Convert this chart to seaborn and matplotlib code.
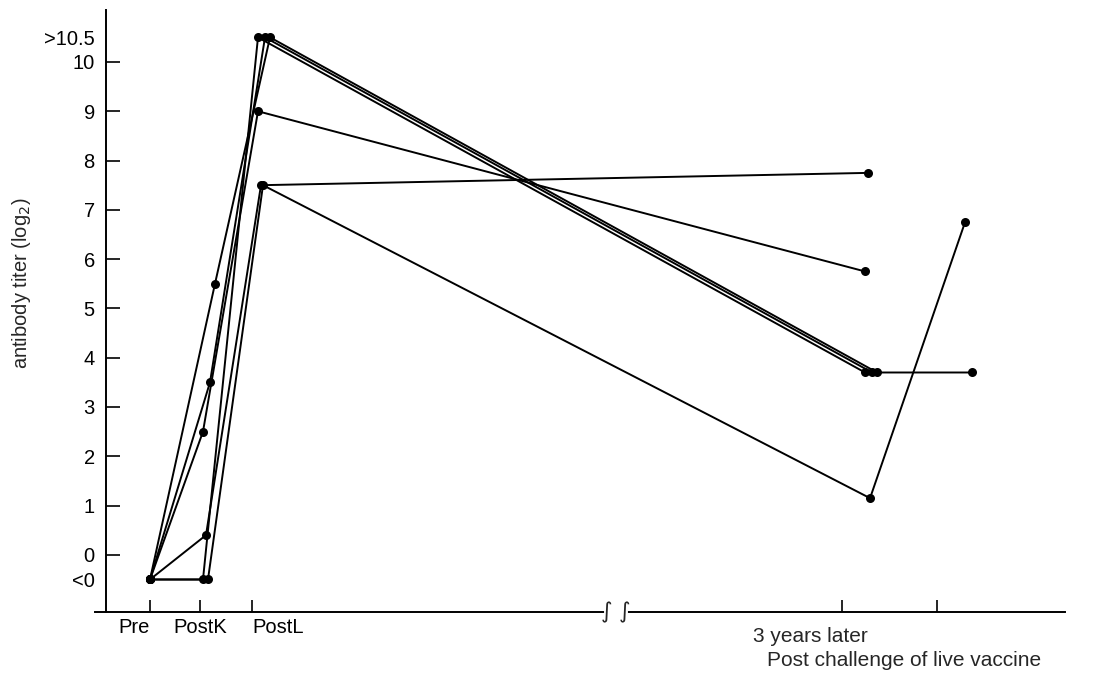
"""
Antibody titer (log2) per subject: Pre, PostK, PostL, 3 years later and after
a challenge with live vaccine. Saves out.png.
"""
import numpy as np
import pandas as pd
import matplotlib.pyplot as plt
import seaborn as sns

timepoints = ["Pre", "PostK", "PostL", "3 years later", "Post challenge"]
subjects = ["A", "B", "C", "D", "E", "F"]

# titer values, -0.5 = "<0", 10.5 = ">10.5"
pre = [-0.5, -0.5, -0.5, -0.5, -0.5, -0.5]
post_k = [5.5, 3.5, 2.5, 0.4, -0.5, -0.5]
post_l = [10.5, 10.5, 9.0, 7.5, 10.5, 7.5]
three_years = [3.7, 3.7, 5.75, 7.75, 3.7, 1.15]
challenge = [3.7, np.nan, np.nan, np.nan, np.nan, 6.75]

# x scale of the time axis (gap between PostL and 3 years is broken)
time_x = [0.0, 1.06, 2.16, 14.3, 16.2]
tick_x = [0.0, 1.0, 2.04, 13.84, 15.74]
# small shift per subject so overlapping lines stay visible
dodge = [0.24, 0.14, 0.0, 0.06, 0.0, 0.1]

series = [pre, post_k, post_l, three_years, challenge]
rows = []
for i, subj in enumerate(subjects):
    for j, t in enumerate(timepoints):
        v = series[j][i]
        if np.isnan(v):
            continue
        shift = dodge[i] if j > 0 else 0.0
        rows.append({"subject": subj, "time": t, "x": time_x[j] + shift, "titer": v})
df = pd.DataFrame(rows)

sns.set_style("ticks")
plt.rcParams["font.family"] = ["Liberation Sans", "DejaVu Sans"]

fig = plt.figure(figsize=(10.98, 6.82), dpi=100)
ax = fig.add_axes([0.0865, 0.1026, 0.8835, 0.8824])

sns.lineplot(data=df, x="x", y="titer", units="subject", estimator=None,
             color="black", linewidth=1.4, marker="o", markersize=6.5,
             markeredgewidth=0, sort=True, legend=False, ax=ax)

ax.set_xlim(-1.1, 18.3)
ax.set_ylim(-1.16, 11.05)
ax.set_xlabel("")
ax.set_ylabel("")

for side in ["top", "right"]:
    ax.spines[side].set_visible(False)
ax.spines["left"].set_position(("data", -0.88))
for side in ["left", "bottom"]:
    ax.spines[side].set_linewidth(1.4)
    ax.spines[side].set_color("black")

# y ticks: integers plus the "<0" / ">10.5" labels (no tick mark)
yt = [-0.5] + list(range(0, 11)) + [10.5]
ylabels = ["<0"] + [str(v) for v in range(0, 11)] + [">10.5"]
ax.set_yticks(yt)
ax.set_yticklabels(ylabels, fontsize=14.5)
ax.tick_params(axis="y", direction="in", length=10, width=1.2, pad=8, colors="black")
ticks = ax.yaxis.get_major_ticks()
ticks[0].tick1line.set_visible(False)
ticks[-1].tick1line.set_visible(False)

ax.set_xticks(tick_x)
ax.set_xticklabels(["Pre", "PostK", "PostL", "", ""], fontsize=14.5)
ax.tick_params(axis="x", direction="in", length=9, width=1.2, pad=4, colors="black")
for lbl, ha in zip(ax.get_xticklabels(), ["right", "center", "left", "center", "center"]):
    lbl.set_ha(ha)

# axis break
ybot = ax.get_ylim()[0]
ax.plot([9.12, 9.52], [ybot, ybot], color="white", lw=3, clip_on=False, zorder=5)
for bx in [9.14, 9.5]:
    ax.text(bx, ybot, "\u222b", ha="center", va="center", fontsize=16,
            family="DejaVu Sans", clip_on=False, zorder=6)

fig.text(810 / 1098, 1 - 637 / 682, "3 years later", ha="center", va="center", fontsize=15)
fig.text(904 / 1098, 1 - 661 / 682, "Post challenge of live vaccine",
         ha="center", va="center", fontsize=15)
fig.text(22 / 1098, 1 - 283 / 682, "antibody titer (log$_2$)", rotation=90,
         ha="center", va="center", fontsize=14.5)

fig.savefig("out.png", dpi=100, facecolor="white")
plt.close(fig)
